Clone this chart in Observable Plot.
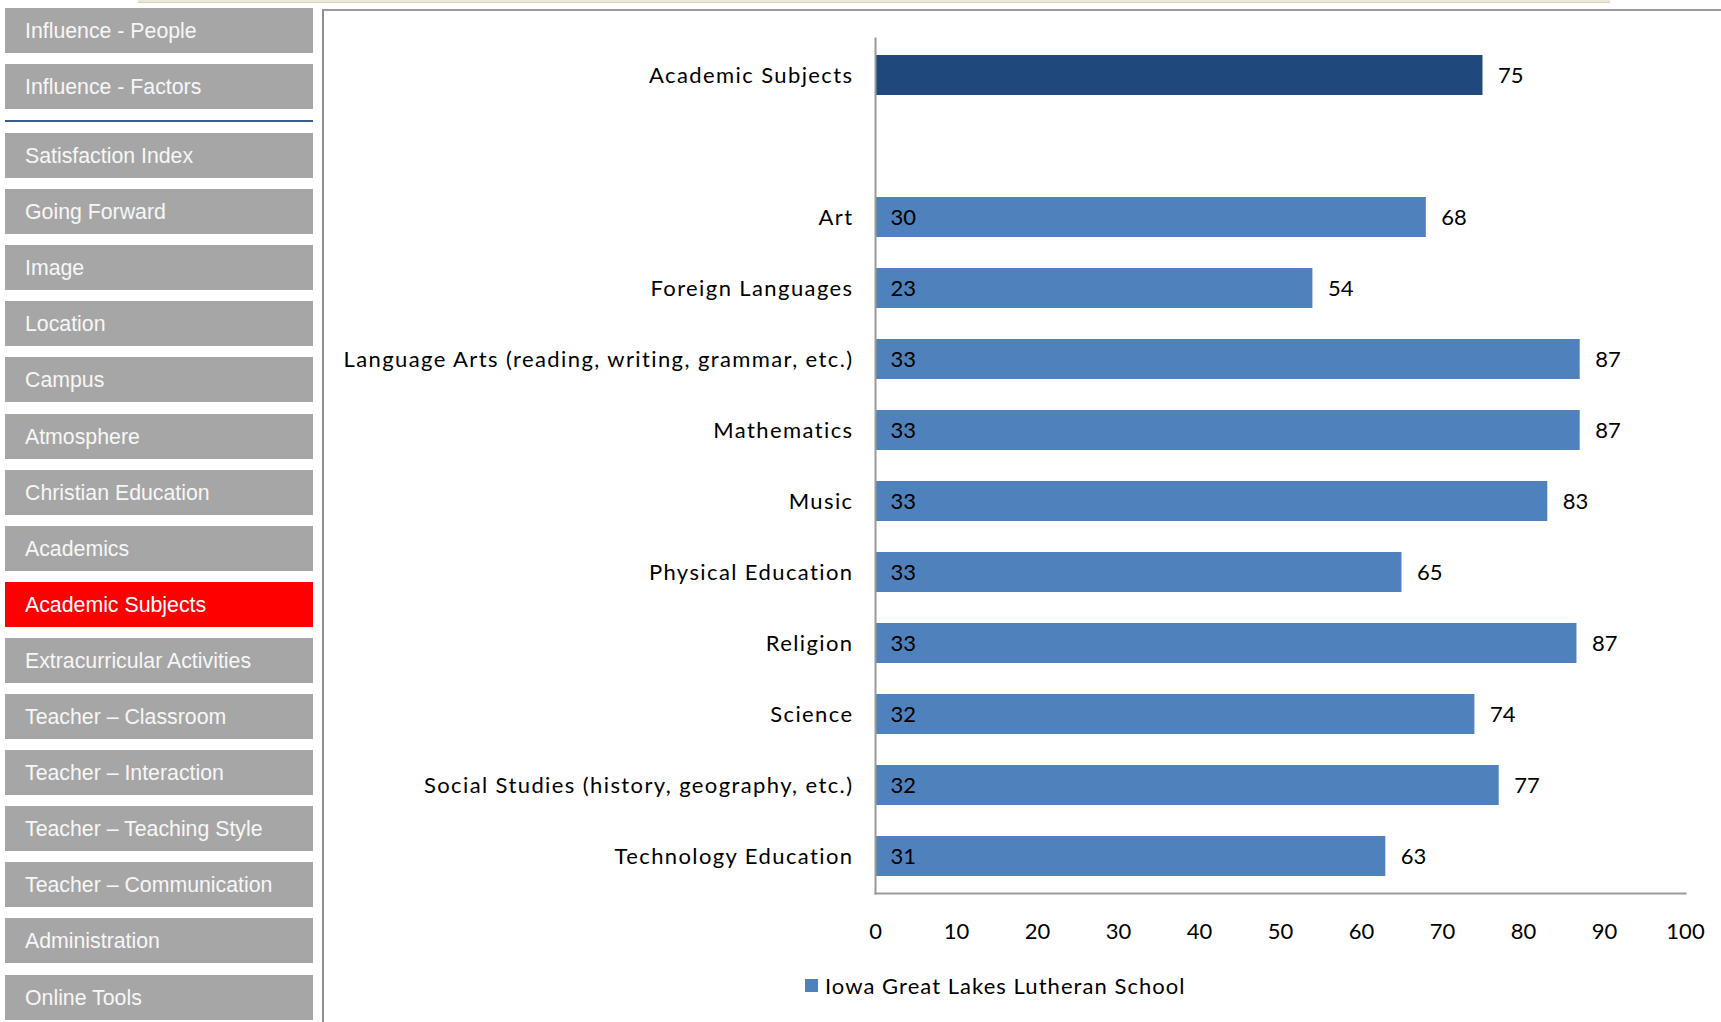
<!DOCTYPE html>
<html>
<head>
<meta charset="utf-8">
<script src="https://cdn.jsdelivr.net/npm/d3@7"></script>
<script src="https://cdn.jsdelivr.net/npm/@observablehq/plot@0.6"></script>
<style>
  html, body { margin: 0; padding: 0; background: #fff; }
  body { width: 1721px; height: 1022px; position: relative; overflow: hidden; font-family: Arial, "Liberation Sans", sans-serif; }
  #strip { position: absolute; left: 138px; top: 0; width: 1472px; height: 2px; background: #ECE9D8; border-bottom: 1px solid #d8d2b6; }
  .btn { position: absolute; left: 5px; width: 308px; height: 45px; background: #A6A6A6; color: #f7f7f7;
         font-size: 21.3px; line-height: 47px; padding-left: 20px; box-sizing: border-box; white-space: nowrap; }
  .btn.active { background: #FF0000; color: #fff; }
  #sep { position: absolute; left: 5px; top: 120px; width: 308px; height: 2px; background: #3b5b8c; }
  #panel { position: absolute; left: 322px; top: 9px; right: 0; bottom: 0; border-left: 2px solid #8f8f8f; border-top: 2px solid #9a9a9a; }
  #chart { position: absolute; left: 324px; top: 10px; }
  #chart g[aria-label="y-axis tick label"] text { letter-spacing: 1.4px; }
  #legend { position: absolute; left: 805px; top: 972px; font-family: Lato, sans-serif; font-size: 22px; letter-spacing: 1.05px; color: #000; display: flex; align-items: center; }
  #legend .sw { width: 13px; height: 13px; background: #4F81BD; margin-right: 7px; }
</style>
</head>
<body>
<div id="strip"></div>
<div id="nav"></div>
<div id="sep"></div>
<div id="panel"></div>
<div id="chart"></div>
<div id="legend"><div class="sw"></div><span id="legendText"></span></div>
<script>
// ---- navigation labels ----
const navTop = ["Influence - People", "Influence - Factors"];
const navMain = ["Satisfaction Index", "Going Forward", "Image", "Location", "Campus", "Atmosphere",
  "Christian Education", "Academics", "Academic Subjects", "Extracurricular Activities",
  "Teacher – Classroom", "Teacher – Interaction", "Teacher – Teaching Style",
  "Teacher – Communication", "Administration", "Online Tools"];
const activeNav = "Academic Subjects";

// ---- chart data ----
const subjects = ["Academic Subjects", "Art", "Foreign Languages",
  "Language Arts (reading, writing, grammar, etc.)", "Mathematics", "Music",
  "Physical Education", "Religion", "Science",
  "Social Studies (history, geography, etc.)", "Technology Education"];
const scores = [75, 68, 54, 87, 87, 83, 65, 86.6, 74, 77, 63];
const counts = [null, 30, 23, 33, 33, 33, 33, 33, 32, 32, 31];
const summarySubject = "Academic Subjects";
const gapLabel = " ";
const xTicks = [0, 10, 20, 30, 40, 50, 60, 70, 80, 90, 100];
const seriesName = "Iowa Great Lakes Lutheran School";

// nav buttons
const nav = document.getElementById("nav");
function addBtn(label, top) {
  const d = document.createElement("div");
  d.className = "btn" + (label === activeNav ? " active" : "");
  d.style.top = top + "px";
  d.textContent = label;
  nav.appendChild(d);
}
navTop.forEach((l, i) => addBtn(l, 8 + i * 56));
navMain.forEach((l, i) => addBtn(l, 133 + i * 56.1));

document.getElementById("legendText").textContent = seriesName;

const data = subjects.map((s, i) => ({subject: s, score: scores[i], n: counts[i]}));
const summary = data.filter(d => d.subject === summarySubject);
const rest = data.filter(d => d.subject !== summarySubject);
const yDomain = [summarySubject, gapLabel, ...rest.map(d => d.subject)];
const fmt = d3.format(".0f");

const chart = Plot.plot({
  width: 1397,
  height: 945,
  marginLeft: 551,
  marginRight: 36,
  marginTop: 28,
  marginBottom: 62,
  style: {fontFamily: "Lato, sans-serif", fontSize: "22px", color: "#000", background: "transparent", overflow: "visible"},
  x: {domain: [0, 100]},
  y: {domain: yDomain, paddingInner: 0.44, paddingOuter: 0.22},
  marks: [
    Plot.barX(summary, {x: "score", y: "subject", fill: "#1F497D"}),
    Plot.barX(rest, {x: "score", y: "subject", fill: "#4F81BD"}),
    Plot.text(data, {x: "score", y: "subject", text: d => fmt(d.score), dx: 15, textAnchor: "start", fontSize: 22, fill: "#000"}),
    Plot.text(data.filter(d => d.n != null), {x: 0, y: "subject", text: d => String(d.n), dx: 15, textAnchor: "start", fontSize: 22, fill: "#000"}),
    Plot.frame({anchor: "left", stroke: "#999", strokeWidth: 2}),
    Plot.frame({anchor: "bottom", stroke: "#999", strokeWidth: 2}),
    Plot.axisX({ticks: xTicks, tickSize: 0, tickPadding: 30, label: null, fontSize: 22, tickFormat: d => String(d)}),
    Plot.axisY({tickSize: 0, tickPadding: 22, label: null, fontSize: 22})
  ]
});
document.getElementById("chart").appendChild(chart);
</script>
</body>
</html>
